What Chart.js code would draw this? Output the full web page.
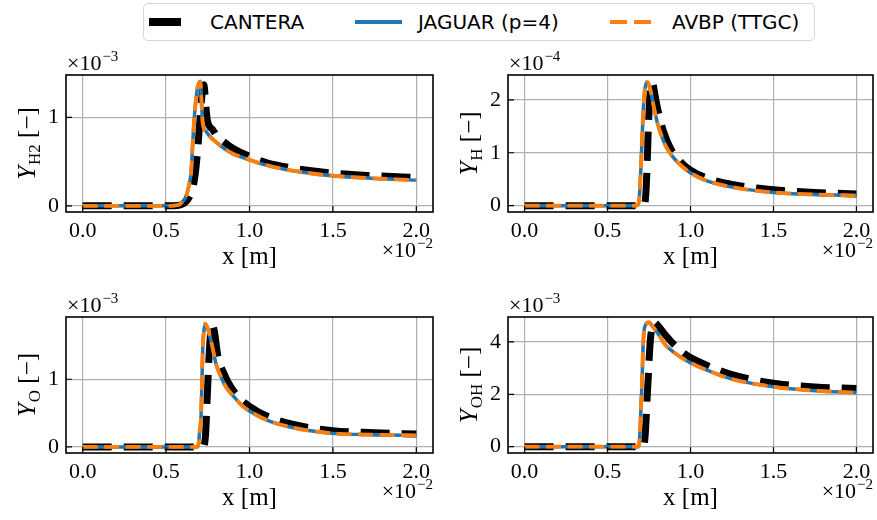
<!DOCTYPE html>
<html lang="en">
<head>
  <meta charset="UTF-8" />
  <title>Species mass fractions</title>
  <script src="https://cdn.jsdelivr.net/npm/chart.js"></script>
  <style>
    * { margin: 0; padding: 0; box-sizing: border-box; }
    body { background: #fff; width: 877px; height: 520px; overflow: hidden; }
    #page { position: relative; width: 877px; height: 520px; }
    #page canvas { position: absolute; }
    #legend {
      position: absolute; left: 143px; top: 3px; width: 672px; height: 38px;
      border: 1.5px solid #d6d6d6; border-radius: 5px; background: #fff;
      font-family: "DejaVu Sans", sans-serif; font-size: 20px; color: #000;
    }
    #legend .handle { position: absolute; }
    #legend .lbl { position: absolute; top: 6px; line-height: 24px; white-space: nowrap; }
  </style>
</head>
<body>
  <div id="page">
    <canvas id="cH2" width="437" height="237" style="left:0px; top:35px;"></canvas>
    <canvas id="cH" width="435" height="237" style="left:442px; top:35px;"></canvas>
    <canvas id="cO" width="437" height="236" style="left:0px; top:277px;"></canvas>
    <canvas id="cOH" width="435" height="236" style="left:442px; top:277px;"></canvas>

    <div id="legend">
      <div class="handle" style="left:5px; top:14px; width:32px; height:8px; background:#000;"></div>
      <div class="lbl" style="left:66px;">CANTERA</div>
      <div class="handle" style="left:211px; top:16px; width:47px; height:4px; background:#1f77b4;"></div>
      <div class="lbl" style="left:274px;">JAGUAR (p=4)</div>
      <div class="handle" style="left:466px; top:16px; width:41px; height:4px;
        background:repeating-linear-gradient(to right, #ff7f0e 0 17px, transparent 17px 24px);"></div>
      <div class="lbl" style="left:528px;">AVBP (TTGC)</div>
    </div>
  </div>

  <script>
    // x in units of 1e-2 m
    const xTicks = [0.0, 0.5, 1.0, 1.5, 2.0];

    // Y_H2 (x1e-3)
    const xCtH2 = [0, 0.5, 0.57, 0.6, 0.62, 0.64, 0.66, 0.67, 0.68, 0.69, 0.70, 0.71, 0.72, 0.727, 0.737, 0.747, 0.76, 0.78, 0.8, 0.85, 0.9, 1.0, 1.1, 1.25, 1.5, 1.75, 2.0];
    const canteraH2 = [0, 0, 0.003, 0.02, 0.05, 0.1, 0.2, 0.3, 0.45, 0.65, 0.9, 1.15, 1.33, 1.37, 1.15, 0.97, 0.9, 0.86, 0.8, 0.72, 0.65, 0.56, 0.49, 0.43, 0.37, 0.34, 0.32];
    const xJgH2 = [0, 0.5, 0.55, 0.58, 0.6, 0.62, 0.64, 0.65, 0.66, 0.67, 0.68, 0.69, 0.705, 0.715, 0.72, 0.74, 0.76, 0.8, 0.85, 0.9, 1.0, 1.1, 1.25, 1.5, 1.75, 2.0];
    const jaguarH2 = [0, 0, 0.003, 0.015, 0.05, 0.11, 0.26, 0.38, 0.72, 1.02, 1.22, 1.35, 1.41, 1.07, 0.93, 0.84, 0.79, 0.72, 0.645, 0.59, 0.52, 0.46, 0.40, 0.34, 0.31, 0.29];
    const avbpH2 = [0, 0, 0.003, 0.015, 0.05, 0.11, 0.26, 0.38, 0.72, 1.02, 1.22, 1.35, 1.40, 1.07, 0.93, 0.84, 0.79, 0.72, 0.645, 0.59, 0.52, 0.46, 0.40, 0.34, 0.31, 0.29];

    // Y_H (x1e-4)
    const xCtH = [0, 0.5, 0.71, 0.725, 0.733, 0.74, 0.746, 0.752, 0.758, 0.766, 0.776, 0.79, 0.81, 0.84, 0.88, 0.95, 1.0, 1.1, 1.25, 1.5, 1.75, 2.0];
    const canteraH = [0, 0, 0, 0.05, 0.35, 0.9, 1.5, 1.9, 2.2, 2.33, 2.27, 2.02, 1.72, 1.38, 1.08, 0.8, 0.67, 0.52, 0.40, 0.30, 0.25, 0.22];
    const xJgH = [0, 0.5, 0.67, 0.68, 0.69, 0.70, 0.708, 0.717, 0.725, 0.738, 0.75, 0.762, 0.78, 0.80, 0.85, 0.9, 0.95, 1.0, 1.09, 1.25, 1.5, 1.75, 2.0];
    const jaguarH = [0, 0, 0, 0.01, 0.1, 0.63, 1.26, 1.89, 2.2, 2.33, 2.28, 2.14, 1.85, 1.57, 1.13, 0.9, 0.74, 0.62, 0.48, 0.35, 0.25, 0.21, 0.19];
    const avbpH = [0, 0, 0, 0.01, 0.1, 0.63, 1.26, 1.89, 2.2, 2.34, 2.28, 2.14, 1.85, 1.57, 1.13, 0.9, 0.74, 0.62, 0.48, 0.35, 0.25, 0.21, 0.19];

    // Y_O (x1e-3)
    const xCtO = [0, 0.5, 0.72, 0.73, 0.737, 0.745, 0.752, 0.76, 0.768, 0.777, 0.79, 0.81, 0.85, 0.89, 0.95, 1.0, 1.1, 1.25, 1.5, 1.75, 2.0];
    const canteraO = [0, 0, 0, 0.04, 0.2, 0.65, 1.05, 1.45, 1.7, 1.8, 1.7, 1.35, 1.07, 0.88, 0.7, 0.6, 0.46, 0.34, 0.24, 0.21, 0.19];
    const xJgO = [0, 0.5, 0.685, 0.695, 0.70, 0.71, 0.715, 0.72, 0.727, 0.735, 0.745, 0.76, 0.78, 0.80, 0.83, 0.86, 0.9, 0.96, 1.0, 1.1, 1.25, 1.5, 1.75, 2.0];
    const jaguarO = [0, 0, 0, 0.05, 0.2, 0.48, 0.98, 1.47, 1.72, 1.81, 1.78, 1.66, 1.45, 1.22, 1.03, 0.88, 0.76, 0.6, 0.53, 0.4, 0.29, 0.2, 0.18, 0.17];
    const avbpO = [0, 0, 0, 0.05, 0.2, 0.48, 0.98, 1.47, 1.72, 1.82, 1.78, 1.66, 1.45, 1.22, 1.03, 0.88, 0.76, 0.6, 0.53, 0.4, 0.29, 0.2, 0.18, 0.17];

    // Y_OH (x1e-3)
    const xCtOH = [0, 0.5, 0.715, 0.725, 0.732, 0.738, 0.745, 0.752, 0.76, 0.77, 0.78, 0.8, 0.85, 0.9, 0.95, 1.0, 1.1, 1.25, 1.5, 1.75, 2.0];
    const canteraOH = [0, 0, 0, 0.3, 1.0, 1.8, 2.6, 3.5, 4.2, 4.6, 4.75, 4.65, 4.25, 3.9, 3.62, 3.4, 3.1, 2.75, 2.42, 2.28, 2.22];
    const xJgOH = [0, 0.5, 0.685, 0.69, 0.695, 0.70, 0.708, 0.714, 0.72, 0.73, 0.75, 0.77, 0.8, 0.85, 0.9, 0.95, 1.0, 1.1, 1.25, 1.5, 1.75, 2.0];
    const jaguarOH = [0, 0, 0, 0.08, 0.5, 1.25, 2.51, 3.79, 4.42, 4.65, 4.74, 4.6, 4.35, 3.88, 3.6, 3.38, 3.2, 2.92, 2.58, 2.29, 2.14, 2.06];
    const avbpOH = [0, 0, 0, 0.08, 0.5, 1.25, 2.51, 3.79, 4.42, 4.66, 4.75, 4.6, 4.35, 3.88, 3.6, 3.38, 3.2, 2.92, 2.58, 2.29, 2.14, 2.06];

    const serif = '"Liberation Serif", "DejaVu Serif", serif';

    const panels = [
      { canvas: "cH2", species: "H2", exp: "\u22123", yMin: -0.07, yMax: 1.48, yTicks: [0, 1],
        ct: [xCtH2, canteraH2], jg: [xJgH2, jaguarH2], av: [xJgH2, avbpH2] },
      { canvas: "cH", species: "H", exp: "\u22124", yMin: -0.12, yMax: 2.47, yTicks: [0, 1, 2],
        ct: [xCtH, canteraH], jg: [xJgH, jaguarH], av: [xJgH, avbpH] },
      { canvas: "cO", species: "O", exp: "\u22123", yMin: -0.09, yMax: 1.92, yTicks: [0, 1],
        ct: [xCtO, canteraO], jg: [xJgO, jaguarO], av: [xJgO, avbpO] },
      { canvas: "cOH", species: "OH", exp: "\u22123", yMin: -0.24, yMax: 4.95, yTicks: [0, 2, 4],
        ct: [xCtOH, canteraOH], jg: [xJgOH, jaguarOH], av: [xJgOH, avbpOH] }
    ];

    function toPoints(xs, ys) {
      return xs.map((x, i) => ({ x: x, y: ys[i] }));
    }

    // draws "base" followed by a raised superscript, starting at x
    function drawSup(ctx, x, y, base, sup, align) {
      ctx.font = "22px " + serif;
      const wb = ctx.measureText(base).width;
      ctx.font = "15px " + serif;
      const ws = ctx.measureText(sup).width;
      let x0 = align === "right" ? x - wb - ws - 1 : x;
      ctx.textAlign = "left";
      ctx.font = "22px " + serif;
      ctx.fillText(base, x0, y);
      ctx.font = "15px " + serif;
      ctx.fillText(sup, x0 + wb + 1, y - 9);
    }

    const decor = {
      id: "decor",
      afterDatasetsDraw(chart) {
        const ctx = chart.ctx;
        const a = chart.chartArea;
        const sx = chart.scales.x, sy = chart.scales.y;
        const p = chart.options.plugins.decor;
        ctx.save();
        ctx.strokeStyle = "#000";
        ctx.lineWidth = 1.6;
        ctx.strokeRect(a.left, a.top, a.right - a.left, a.bottom - a.top);

        ctx.lineWidth = 1.2;
        ctx.beginPath();
        sx.ticks.forEach(t => {
          const px = sx.getPixelForValue(t.value);
          ctx.moveTo(px, a.bottom); ctx.lineTo(px, a.bottom - 6);
        });
        sy.ticks.forEach(t => {
          const py = sy.getPixelForValue(t.value);
          ctx.moveTo(a.left, py); ctx.lineTo(a.left + 6, py);
        });
        ctx.stroke();

        ctx.fillStyle = "#000";
        ctx.textBaseline = "alphabetic";

        // x axis label
        ctx.font = "25px " + serif;
        ctx.textAlign = "center";
        ctx.fillText("x [m]", (a.left + a.right) / 2, a.bottom + 52);

        // offset texts
        drawSup(ctx, a.left + 1, a.top - 5, "\u00d710", p.exp, "left");
        drawSup(ctx, a.right, a.bottom + 45, "\u00d710", "\u22122", "right");

        // y axis label with subscript
        ctx.translate(a.left - 31, (a.top + a.bottom) / 2);
        ctx.rotate(-Math.PI / 2);
        ctx.textAlign = "left";
        const fY = "italic 25px " + serif, fS = "17px " + serif, fR = "25px " + serif;
        ctx.font = fY; const w1 = ctx.measureText("Y").width;
        ctx.font = fS; const w2 = ctx.measureText(p.species).width;
        ctx.font = fR; const w3 = ctx.measureText(" [\u2212]").width;
        let x0 = -(w1 + w2 + w3 + 1) / 2;
        ctx.font = fY; ctx.fillText("Y", x0, 0);
        ctx.font = fS; ctx.fillText(p.species, x0 + w1 + 1, 5);
        ctx.font = fR; ctx.fillText(" [\u2212]", x0 + w1 + w2 + 1, 0);
        ctx.restore();
      }
    };

    panels.forEach(pn => {
      new Chart(document.getElementById(pn.canvas), {
        type: "line",
        data: {
          datasets: [
            {
              label: "CANTERA",
              data: toPoints(pn.ct[0], pn.ct[1]),
              borderColor: "#000",
              borderWidth: 7,
              borderDash: [29, 12],
              order: 3
            },
            {
              label: "JAGUAR (p=4)",
              data: toPoints(pn.jg[0], pn.jg[1]),
              borderColor: "#1f77b4",
              borderWidth: 3.5,
              order: 2
            },
            {
              label: "AVBP (TTGC)",
              data: toPoints(pn.av[0], pn.av[1]),
              borderColor: "#ff7f0e",
              borderWidth: 3.8,
              borderDash: [15, 6.5],
              order: 1
            }
          ]
        },
        options: {
          responsive: false,
          animation: false,
          devicePixelRatio: 1,
          layout: { padding: { top: 40, right: 4, left: 0, bottom: 0 } },
          elements: {
            point: { radius: 0, hoverRadius: 0 },
            line: { cubicInterpolationMode: "monotone", borderCapStyle: "butt", borderJoinStyle: "round", fill: false }
          },
          plugins: {
            legend: { display: false },
            tooltip: { enabled: false },
            decor: { species: pn.species, exp: pn.exp }
          },
          scales: {
            x: {
              type: "linear",
              min: -0.1,
              max: 2.1,
              afterBuildTicks: s => { s.ticks = xTicks.map(v => ({ value: v })); },
              afterFit: s => { s.height = 60; s.paddingLeft = 0; s.paddingRight = 0; },
              border: { display: false },
              grid: { color: "#b0b0b0", lineWidth: 1.2, drawTicks: false },
              ticks: {
                padding: 6, color: "#000", autoSkip: false, maxRotation: 0,
                font: { family: serif, size: 22 },
                callback: v => v.toFixed(1)
              }
            },
            y: {
              min: pn.yMin,
              max: pn.yMax,
              afterBuildTicks: s => { s.ticks = pn.yTicks.map(v => ({ value: v })); },
              afterFit: s => { s.width = 66; s.paddingTop = 0; s.paddingBottom = 0; },
              border: { display: false },
              grid: { color: "#b0b0b0", lineWidth: 1.2, drawTicks: false },
              ticks: {
                padding: 7, color: "#000", autoSkip: false,
                font: { family: serif, size: 22 },
                callback: v => String(v)
              }
            }
          }
        },
        plugins: [decor]
      });
    });
  </script>
</body>
</html>
